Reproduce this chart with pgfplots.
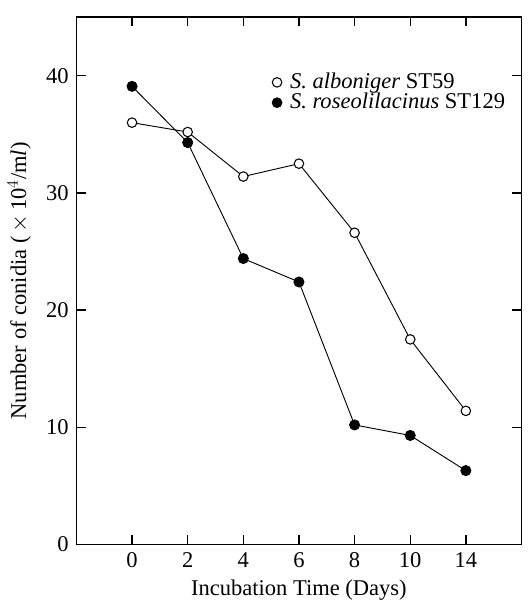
\documentclass[border=0pt]{standalone}
\usepackage{fontspec}
\setmainfont{Liberation Serif}
\usepackage{pgfplots}
\pgfplotsset{compat=1.18}

\begin{document}
\fontsize{17}{20}\selectfont
\begin{tikzpicture}
\begin{axis}[
    name=main,
    scale only axis,
    width=336pt, height=398pt,
    xmin=-1, xmax=7,
    ymin=0, ymax=45,
    xtick={0,1,2,3,4,5,6},
    xticklabels={0,2,4,6,8,10,14},
    ytick={0,10,20,30,40},
    tick align=inside,
    tick pos=both,
    major tick length=7pt,
    axis line style={line width=1.1pt},
    every tick/.style={line width=1pt, black},
    /pgf/number format/assume math mode=true,
    ticklabel style={font=\fontsize{17}{20}\selectfont},
    xlabel={Incubation Time (Days)},
    ylabel={Number of conidia (\,$\times$\,10$^{4}$/m\textit{l})},
    label style={font=\fontsize{17}{20}\selectfont},
    xlabel style={yshift=2pt},
    legend style={at={(0.43,0.905)}, anchor=north west, draw=none, fill=none,
        font=\fontsize{17}{20}\selectfont, row sep=-3pt},
    legend cell align=left,
]
% S. alboniger ST59 (open circles)
\addplot[black, line width=0.7pt, mark=*, mark size=3.6pt,
    mark options={fill=white, line width=0.8pt}, forget plot] coordinates {
    (0,36.0) (1,35.2) (2,31.4) (3,32.5) (4,26.6) (5,17.5) (6,11.4)
};
% S. roseolilacinus ST129 (filled circles)
\addplot[black, line width=0.7pt, mark=*, mark size=3.8pt,
    mark options={fill=black}, forget plot] coordinates {
    (0,39.1) (1,34.3) (2,24.4) (3,22.4) (4,10.2) (5,9.3) (6,6.3)
};
\addlegendimage{only marks, mark=*, mark size=3.6pt, mark options={fill=white, line width=0.8pt}}
\addlegendentry{\hspace{4pt}\textit{S. alboniger} ST59}
\addlegendimage{only marks, mark=*, mark size=3.8pt, mark options={fill=black}}
\addlegendentry{\hspace{4pt}\textit{S. roseolilacinus} ST129}
\end{axis}
% white margin above and to the right of the frame
\path ([yshift=13pt]main.north) ([xshift=6pt]main.east);
\end{tikzpicture}
\end{document}
